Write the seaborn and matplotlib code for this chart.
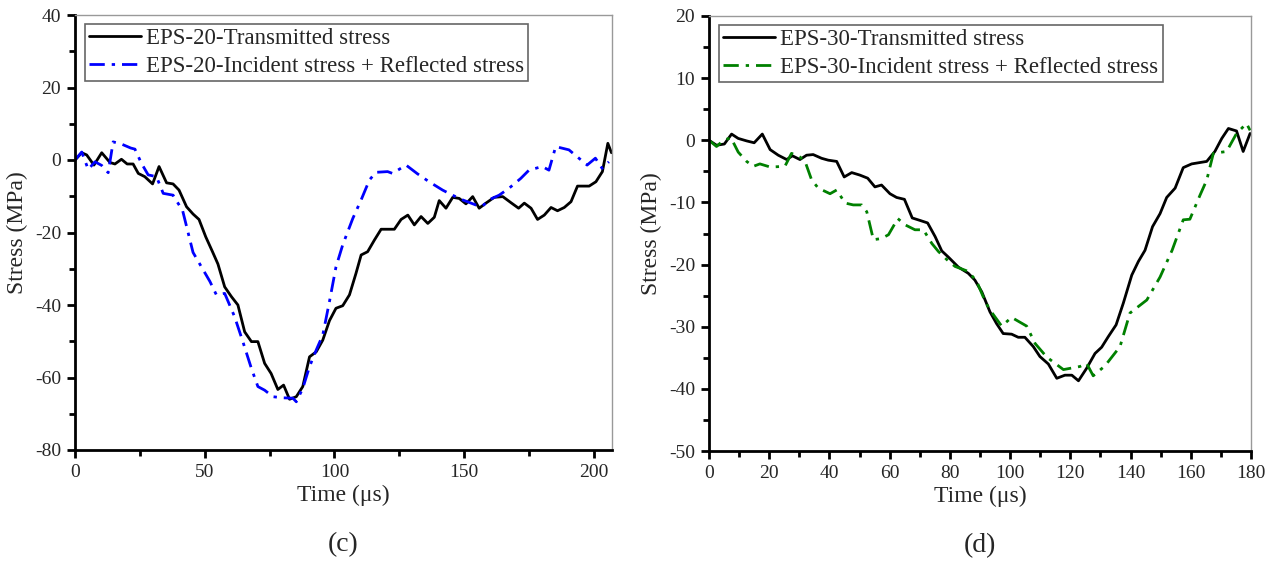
import numpy as np
import pandas as pd
import matplotlib
matplotlib.use("Agg")
import matplotlib.pyplot as plt
import seaborn as sns
from matplotlib.ticker import MultipleLocator

# ---------------- data: panel (c) EPS-20 ----------------
c_trans_t = [0, 2.6, 4.5, 7.3, 10.3, 13.5, 15.4, 17.9, 20.1, 22.4, 24.4, 26.9, 29.9, 32.4,
             35.3, 37.8, 40.1, 43.0, 45.5, 47.8, 50.4, 53.0, 55.1, 57.7, 60.3, 62.8, 65.4,
             68.0, 70.5, 73.1, 75.6, 78.2, 80.4, 82.7, 85.3, 87.8, 90.4, 93.0, 95.5, 98.1,
             100.6, 103.2, 105.8, 108.3, 110.3, 112.8, 115.4, 118.0, 123.1, 125.7, 128.3,
             130.8, 133.4, 136.0, 138.5, 140.4, 143.0, 145.6, 148.1, 150.7, 153.3, 155.8,
             158.4, 161.6, 164.9, 168.1, 171.0, 173.2, 175.8, 178.3, 180.9, 183.5, 186.0,
             188.6, 191.2, 193.7, 198.2, 200.8, 203.3, 205.4, 206.8]
c_trans_v = [0, 2.0, 1.4, -1.4, 2.0, -0.7, -1.1, 0.2, -1.1, -1.1, -3.7, -4.6, -6.6, -1.8,
             -6.3, -6.6, -8.3, -12.9, -14.9, -16.4, -21.2, -25.3, -28.7, -35.0, -37.7, -40.0,
             -47.4, -50.1, -50.1, -56.1, -58.9, -63.3, -62.1, -66.0, -65.3, -62.5, -54.3,
             -52.9, -49.7, -44.3, -40.9, -40.2, -37.2, -31.3, -26.2, -25.3, -22.1, -19.1,
             -19.1, -16.4, -15.2, -17.9, -15.6, -17.5, -15.8, -11.2, -13.3, -10.3, -10.6,
             -12.1, -10.1, -13.3, -11.9, -10.3, -10.1, -11.8, -13.3, -11.9, -13.3, -16.4,
             -15.2, -13.1, -14.0, -13.1, -11.5, -7.2, -7.2, -6.0, -3.2, 4.6, 2.0]

c_sum_t = [0, 2.6, 5.1, 7.7, 10.3, 12.8, 14.7, 17.9, 21.5, 23.1, 25.6, 28.2, 31.4, 34.0,
           37.8, 41.5, 45.5, 49.4, 52.0, 54.5, 57.7, 61.5, 64.7, 68.0, 70.5, 73.1, 76.3,
           80.0, 84.0, 85.3, 87.8, 90.4, 93.0, 95.5, 98.1, 100.6, 103.2, 107.1, 110.3,
           113.5, 116.0, 120.5, 122.4, 127.6, 132.0, 136.5, 141.7, 145.5, 149.4, 154.5,
           157.1, 159.6, 163.5, 167.3, 171.8, 175.0, 180.1, 182.7, 185.3, 190.4, 197.4,
           200.6, 203.2, 205.8]
c_sum_v = [0, 2.2, -2.6, -0.5, -1.5, -3.5, 5.0, 4.4, 3.3, 3.0, -0.9, -4.1, -4.6, -9.2,
           -9.7, -14.0, -25.5, -30.3, -33.5, -37.2, -36.8, -43.2, -50.1, -57.5, -62.5,
           -63.5, -65.3, -65.6, -65.7, -66.7, -63.0, -57.0, -52.4, -48.3, -39.0, -29.5,
           -23.4, -16.1, -11.0, -5.5, -3.4, -3.2, -3.7, -1.4, -3.8, -6.0, -8.3, -9.7,
           -11.0, -12.4, -12.7, -11.0, -9.7, -7.8, -5.1, -2.8, -1.8, -2.8, 3.7, 2.8, -1.4,
           0.5, -2.3, -0.5]

# ---------------- data: panel (d) EPS-30 ----------------
d_trans_t = [0, 2.5, 5.1, 7.5, 9.7, 12.5, 15.0, 17.7, 20.3, 23.0, 25.8, 27.7, 30.2, 32.4,
             34.6, 37.4, 39.6, 42.4, 44.9, 47.4, 50.1, 52.7, 55.1, 57.3, 60.1, 62.3, 64.9,
             67.5, 70.1, 72.6, 75.1, 77.3, 79.5, 82.8, 86.1, 88.3, 90.6, 93.3, 95.5, 97.7,
             100.5, 102.7, 104.9, 107.7, 109.9, 112.7, 115.5, 118.2, 120.5, 122.7, 125.4,
             128.2, 130.4, 132.6, 135.2, 137.6, 140.4, 142.6, 144.8, 147.3, 149.8, 152.0,
             154.8, 157.5, 160.3, 165.3, 168.0, 170.3, 172.5, 175.2, 177.4, 179.7]
d_trans_v = [0, -0.8, -0.6, 1.0, 0.3, -0.1, -0.4, 1.0, -1.5, -2.4, -3.1, -2.5, -3.1, -2.4,
             -2.3, -2.9, -3.2, -3.4, -5.9, -5.2, -5.6, -6.1, -7.5, -7.2, -8.6, -9.2, -9.5,
             -12.5, -12.9, -13.3, -15.5, -17.8, -18.8, -20.4, -21.4, -22.5, -24.4, -27.6,
             -29.5, -31.1, -31.2, -31.7, -31.7, -33.2, -34.8, -36.0, -38.3, -37.8, -37.8,
             -38.7, -36.7, -34.3, -33.3, -31.6, -29.7, -26.2, -21.7, -19.5, -17.7, -13.9,
             -11.8, -9.2, -7.7, -4.4, -3.8, -3.4, -1.8, 0.3, 1.9, 1.5, -1.8, 1.1]

d_sum_t = [0, 2.5, 4.8, 7.3, 9.7, 12.5, 14.7, 16.9, 20.3, 25.2, 27.4, 30.2, 31.9, 34.1,
           36.3, 40.2, 42.4, 45.2, 47.9, 50.7, 52.4, 54.6, 57.3, 59.6, 62.7, 65.1, 68.4,
           71.2, 74.0, 76.2, 79.0, 81.7, 86.1, 88.9, 91.7, 93.3, 97.2, 100.5, 105.5, 108.3,
           112.2, 117.7, 123.2, 125.4, 127.6, 131.5, 136.5, 139.8, 145.4, 149.8, 153.8,
           157.5, 159.7, 163.1, 165.3, 167.5, 171.9, 175.2, 178.5, 179.7]
d_sum_v = [0, -1.0, 0, 0.4, -1.9, -3.4, -4.2, -3.8, -4.3, -4.2, -2.1, -2.7, -3.4, -6.4,
           -7.7, -8.6, -8.0, -10.1, -10.4, -10.4, -11.5, -16.0, -15.8, -15.2, -12.6, -13.6,
           -14.4, -14.4, -16.6, -17.9, -19.2, -20.3, -21.1, -22.7, -25.9, -27.3, -29.9,
           -28.5, -29.9, -32.7, -34.9, -36.9, -36.4, -35.9, -37.9, -36.3, -33.2, -27.8,
           -25.7, -22.0, -17.7, -12.8, -12.7, -8.8, -6.4, -2.1, -1.8, 1.1, 2.7, 1.6]

labels_c = ["EPS-20-Transmitted stress", "EPS-20-Incident stress + Reflected stress"]
labels_d = ["EPS-30-Transmitted stress", "EPS-30-Incident stress + Reflected stress"]

# ---------------- style ----------------
sns.set_style("ticks")
plt.rcParams["font.family"] = ["Liberation Serif", "DejaVu Serif"]
plt.rcParams["axes.unicode_minus"] = False
plt.rcParams["mathtext.default"] = "regular"

fig = plt.figure(figsize=(12.76, 5.62), dpi=100)
ax1 = fig.add_axes([75 / 1276, 1 - 450 / 562, (612 - 75) / 1276, 435 / 562])
ax2 = fig.add_axes([709 / 1276, 1 - 451 / 562, (1251 - 709) / 1276, 435 / 562])

dashdot = (0, (5.5, 2.5, 1.2, 2.5))


def draw(ax, tt, tv, st, sv, col, labels):
    df1 = pd.DataFrame({"t": tt, "v": tv})
    df2 = pd.DataFrame({"t": st, "v": sv})
    sns.lineplot(data=df1, x="t", y="v", ax=ax, color="black", lw=2.0, sort=False,
                 estimator=None, label=labels[0])
    sns.lineplot(data=df2, x="t", y="v", ax=ax, color=col, lw=2.0, sort=False,
                 estimator=None, label=labels[1], linestyle=dashdot)


draw(ax1, c_trans_t, c_trans_v, c_sum_t, c_sum_v, "#0000ff", labels_c)
draw(ax2, d_trans_t, d_trans_v, d_sum_t, d_sum_v, "#008000", labels_d)

ax1.set_xlim(0, 207)
ax1.set_ylim(-80, 40)
ax1.xaxis.set_major_locator(MultipleLocator(50))
ax1.xaxis.set_minor_locator(MultipleLocator(25))
ax1.yaxis.set_major_locator(MultipleLocator(20))
ax1.yaxis.set_minor_locator(MultipleLocator(10))

ax2.set_xlim(0, 180)
ax2.set_ylim(-50, 20)
ax2.xaxis.set_major_locator(MultipleLocator(20))
ax2.xaxis.set_minor_locator(MultipleLocator(10))
ax2.yaxis.set_major_locator(MultipleLocator(10))
ax2.yaxis.set_minor_locator(MultipleLocator(5))

for ax, tag in ((ax1, "(c)"), (ax2, "(d)")):
    ax.set_facecolor("white")
    for s in ("left", "bottom"):
        ax.spines[s].set_color("black")
        ax.spines[s].set_linewidth(2.0)
    for s in ("top", "right"):
        ax.spines[s].set_visible(True)
        ax.spines[s].set_color("#999999")
        ax.spines[s].set_linewidth(1.0)
    ax.tick_params(which="major", direction="out", length=6, width=2.0, color="black",
                   labelsize=14, pad=4, top=False, right=False)
    ax.tick_params(which="minor", direction="out", length=4, width=2.0, color="black",
                   top=False, right=False)
    ax.set_xlabel("Time (\u03bcs)", fontsize=17, labelpad=3)
    ax.set_ylabel("Stress (MPa)", fontsize=17, labelpad=5)
    ax.text(0.5, -0.218, tag, transform=ax.transAxes, ha="center", va="center", fontsize=20)
    leg = ax.legend(loc="upper left", bbox_to_anchor=(0.0186, 0.979), fontsize=16.5,
                    frameon=True, fancybox=False, edgecolor="#666666", framealpha=1,
                    handlelength=2.27, handletextpad=0.22, borderpad=0.18,
                    labelspacing=0.28, borderaxespad=0)
    leg.get_frame().set_linewidth(1.2)

fig.savefig("out.png", dpi=100, facecolor="white")
